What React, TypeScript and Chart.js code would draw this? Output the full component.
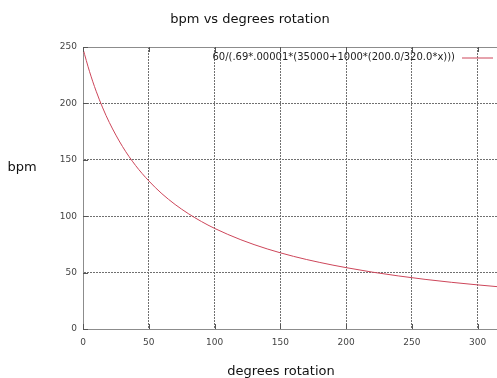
import React, { useEffect, useRef } from "react";
import { Chart, registerables } from "chart.js";

Chart.register(...registerables);

// Values
const degrees = [0, 5, 10, 15, 20, 30, 40, 50, 60, 70, 80, 90, 100, 120, 140, 160, 180, 200, 220, 240, 260, 280, 300, 320];
const bpm = [248.4, 228.1, 210.8, 196.0, 183.1, 161.8, 144.9, 131.3, 119.9, 110.4, 102.3, 95.3, 89.2, 79.1, 71.0, 64.4, 59.0, 54.4, 50.4, 47.0, 44.0, 41.4, 39.1, 37.0];
const xTicks = [0, 50, 100, 150, 200, 250, 300];
const yTicks = [0, 50, 100, 150, 200, 250];
const titleText = "bpm vs degrees rotation";
const xLabel = "degrees rotation";
const yLabel = "bpm";
const seriesLabel = "60/(.69*.00001*(35000+1000*(200.0/320.0*x)))";

const FONT = "'DejaVu Sans', sans-serif";
const CURVE = "rgb(205,70,90)";
const CANVAS_W = 520;
const CANVAS_H = 378;

const decorPlugin = {
  id: "gnuplotDecor",
  afterDraw(chart: any) {
    const { ctx, chartArea, scales } = chart;
    const { left, right, top, bottom } = chartArea;
    ctx.save();
    // top and right borders
    ctx.strokeStyle = "#8c8c8c";
    ctx.lineWidth = 1;
    ctx.setLineDash([]);
    ctx.beginPath();
    ctx.moveTo(left, top + 0.5);
    ctx.lineTo(right, top + 0.5);
    ctx.moveTo(right - 0.5, top);
    ctx.lineTo(right - 0.5, bottom);
    ctx.stroke();
    // inward tick marks
    ctx.strokeStyle = "#555";
    ctx.beginPath();
    xTicks.forEach((v) => {
      const px = Math.round(scales.x.getPixelForValue(v)) + 0.5;
      ctx.moveTo(px, top);
      ctx.lineTo(px, top + 5);
      ctx.moveTo(px, bottom);
      ctx.lineTo(px, bottom - 5);
    });
    yTicks.forEach((v) => {
      const py = Math.round(scales.y.getPixelForValue(v)) + 0.5;
      ctx.moveTo(left, py);
      ctx.lineTo(left + 5, py);
    });
    ctx.stroke();

    // texts
    ctx.fillStyle = "#111";
    ctx.textBaseline = "middle";
    ctx.textAlign = "center";
    ctx.font = `13px ${FONT}`;
    ctx.fillText(titleText, 250, 20);
    ctx.fillText(xLabel, 281, 372);
    ctx.fillText(yLabel, 22, 168);

    // legend
    ctx.font = `10px ${FONT}`;
    ctx.textAlign = "right";
    ctx.fillStyle = "#222";
    ctx.fillText(seriesLabel, 455, 57.5);
    ctx.strokeStyle = CURVE;
    ctx.lineWidth = 1;
    ctx.beginPath();
    ctx.moveTo(462, 58);
    ctx.lineTo(493, 58);
    ctx.stroke();
    ctx.restore();
  },
};

export default function App() {
  const ref = useRef<HTMLCanvasElement | null>(null);

  useEffect(() => {
    if (!ref.current) return;
    const chart = new Chart(ref.current, {
      type: "scatter",
      data: {
        datasets: [
          {
            label: seriesLabel,
            data: degrees.map((x, i) => ({ x, y: bpm[i] })),
            showLine: true,
            borderColor: CURVE,
            borderWidth: 1,
            pointRadius: 0,
            cubicInterpolationMode: "monotone",
            fill: false,
          } as any,
        ],
      },
      options: {
        animation: false,
        responsive: false,
        devicePixelRatio: 1,
        layout: { padding: { top: 47, left: 0, right: 16, bottom: 0 } },
        plugins: {
          legend: { display: false },
          title: { display: false },
          tooltip: { enabled: false },
        },
        scales: {
          x: {
            type: "linear",
            min: 0,
            max: 320,
            afterBuildTicks: (s: any) => {
              s.ticks = xTicks.map((v) => ({ value: v }));
            },
            afterFit: (s: any) => {
              s.height = 49;
            },
            ticks: { font: { family: FONT, size: 9 }, color: "#444", padding: 8, maxRotation: 0, autoSkip: false },
            grid: { color: "#707070", lineWidth: 1, drawTicks: false },
            border: { display: true, color: "#8c8c8c", width: 1, dash: [2, 1] },
          },
          y: {
            type: "linear",
            min: 0,
            max: 250,
            afterBuildTicks: (s: any) => {
              s.ticks = yTicks.map((v) => ({ value: v }));
            },
            afterFit: (s: any) => {
              s.width = 83;
            },
            ticks: { font: { family: FONT, size: 9 }, color: "#444", padding: 6, autoSkip: false },
            grid: { color: "#707070", lineWidth: 1, drawTicks: false },
            border: { display: true, color: "#8c8c8c", width: 1, dash: [2, 1] },
          },
        },
      } as any,
      plugins: [decorPlugin],
    });
    return () => chart.destroy();
  }, []);

  return (
    <div
      style={{
        position: "absolute",
        left: 0,
        top: 0,
        width: 497,
        height: 378,
        overflow: "hidden",
        background: "#fff",
      }}
    >
      <canvas ref={ref} width={CANVAS_W} height={CANVAS_H} style={{ display: "block", width: CANVAS_W, height: CANVAS_H }} />
    </div>
  );
}
